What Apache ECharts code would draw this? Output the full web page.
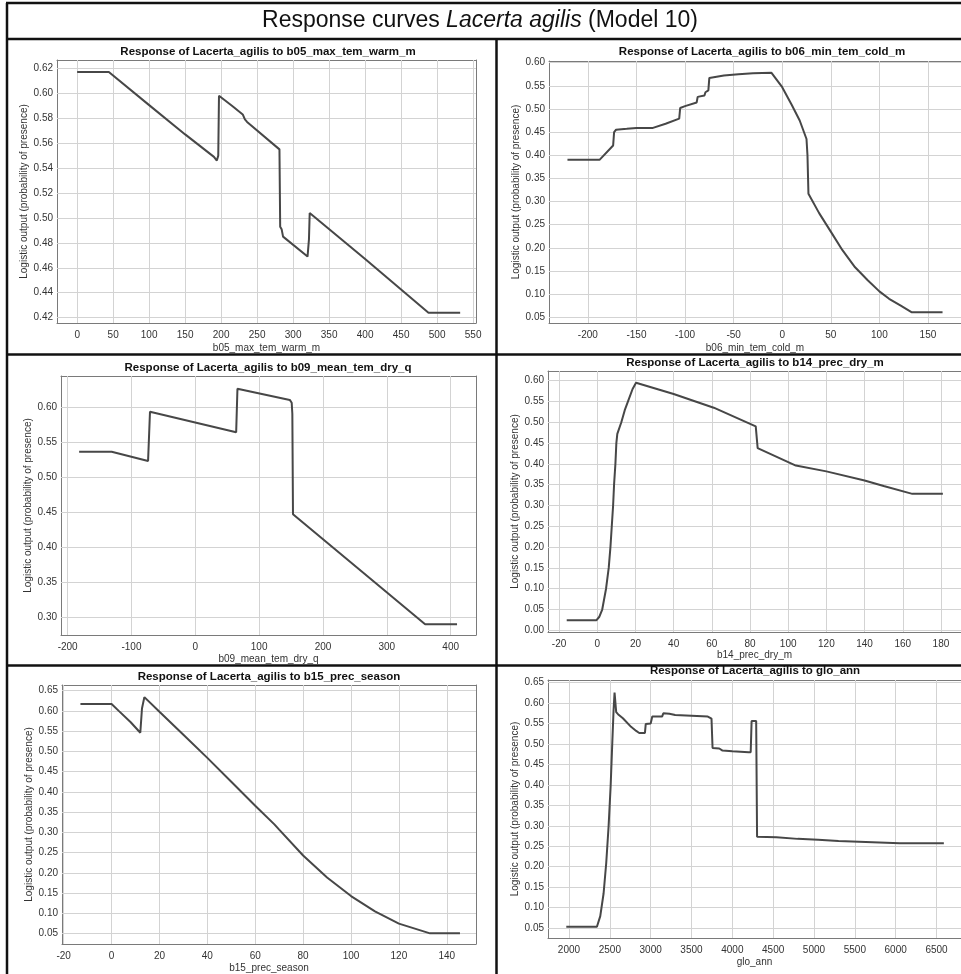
<!DOCTYPE html>
<html lang="en">
<head>
<meta charset="UTF-8">
<title>Response curves Lacerta agilis (Model 10)</title>
<script src="https://cdn.jsdelivr.net/npm/echarts@6/dist/echarts.min.js"></script>
<style>
  html,body{margin:0;padding:0;width:100%;height:100%;background:#fff;overflow:hidden;}
  #chart{width:961px;height:974px;}
</style>
</head>
<body>
<div id="chart"></div>
<script>
// response curves: [variable value, logistic output]
var b05 = [[0,0.617],[44,0.617],[100,0.5905],[150,0.567],[190,0.549],[194,0.546],[196,0.550],[197,0.598],[215,0.590],[230,0.583],[233,0.579],[236,0.577],
  [281,0.555],[282,0.493],[284,0.491],[286,0.485],[320,0.469],[322,0.483],[323,0.504],[400,0.467],[488,0.424],[532,0.424]];
var b06 = [[-221,0.390],[-188,0.390],[-174,0.421],[-173,0.450],[-171,0.455],[-160,0.457],[-150,0.459],[-133,0.459],[-120,0.468],[-106,0.479],[-105,0.502],
  [-100,0.506],[-88,0.514],[-87,0.526],[-80,0.529],[-79,0.536],[-76,0.540],[-75,0.567],[-60,0.572],[-45,0.575],[-30,0.577],[-11,0.578],[0,0.547],[10,0.508],
  [18,0.475],[25,0.435],[26,0.400],[27,0.317],[38,0.275],[50,0.235],[62,0.195],[75,0.158],[88,0.130],[100,0.106],[110,0.090],[122,0.075],[133,0.061],[165,0.061]];
var b09 = [[-182,0.536],[-131,0.536],[-74,0.523],[-71,0.593],[64,0.564],[66,0.626],[148,0.610],[151,0.606],[152,0.590],[153,0.447],[360,0.290],[410,0.290]];
var b14 = [[-16,0.024],[-0.5,0.024],[1,0.032],[2.6,0.05],[4.6,0.10],[6.0,0.15],[6.9,0.20],[7.6,0.25],[8.3,0.30],[8.8,0.35],[9.5,0.40],[10.0,0.45],[10.5,0.472],
  [12.6,0.50],[14.4,0.529],[16.1,0.55],[18.5,0.58],[20.3,0.595],[40,0.568],[61,0.535],[83,0.490],[84,0.438],[104,0.396],[120,0.382],[140,0.360],[150,0.347],
  [165,0.328],[181,0.328]];
var b15 = [[-13,0.617],[0,0.617],[3,0.600],[8,0.572],[12,0.546],[12.4,0.580],[12.7,0.606],[13.3,0.607],[13.7,0.634],[20,0.598],[30,0.541],[40,0.484],
  [50,0.425],[60,0.366],[68,0.320],[70,0.307],[80,0.243],[90,0.189],[100,0.143],[110,0.105],[120,0.075],[133,0.051],[145.5,0.051]];
var glo = [[1967,0.053],[2342,0.053],[2383,0.079],[2424,0.135],[2456,0.209],[2485,0.299],[2510,0.397],[2530,0.502],[2546,0.583],[2558,0.626],[2568,0.624],
  [2578,0.578],[2600,0.573],[2660,0.563],[2760,0.542],[2823,0.532],[2860,0.527],[2930,0.527],[2940,0.549],[3000,0.550],[3020,0.567],[3140,0.567],[3155,0.575],
  [3230,0.574],[3300,0.571],[3500,0.569],[3700,0.567],[3745,0.562],[3758,0.490],[3840,0.489],[3880,0.484],[4000,0.482],[4200,0.480],[4225,0.480],[4236,0.556],
  [4292,0.556],[4303,0.273],[4540,0.272],[4800,0.268],[5050,0.266],[5300,0.263],[5550,0.261],[5800,0.259],[6050,0.257],[6590,0.257]];

// tick labels
var b05Ticks = [0,50,100,150,200,250,300,350,400,450,500,550];
var b06Ticks = [-200,-150,-100,-50,0,50,100,150];
var b09Ticks = [-200,-100,0,100,200,300,400];
var b14Ticks = [-20,0,20,40,60,80,100,120,140,160,180];
var b15Ticks = [-20,0,20,40,60,80,100,120,140];
var gloTicks = [2000,2500,3000,3500,4000,4500,5000,5500,6000,6500];
var yTicks42 = [0.42,0.44,0.46,0.48,0.50,0.52,0.54,0.56,0.58,0.60,0.62];
var yTicks05 = [0.05,0.10,0.15,0.20,0.25,0.30,0.35,0.40,0.45,0.50,0.55,0.60];
var yTicks30 = [0.30,0.35,0.40,0.45,0.50,0.55,0.60];
var yTicks00 = [0.00,0.05,0.10,0.15,0.20,0.25,0.30,0.35,0.40,0.45,0.50,0.55,0.60];
var yTicks65 = [0.05,0.10,0.15,0.20,0.25,0.30,0.35,0.40,0.45,0.50,0.55,0.60,0.65];

var panels = [
  {v:'b05_max_tem_warm_m', data:b05, xt:b05Ticks, yt:yTicks42, left:57, top:60, width:419, height:263, xMin:-28, xMax:554, yMin:0.4157, yMax:0.6267, tx:268, ty:52, gap:20},
  {v:'b06_min_tem_cold_m', data:b06, xt:b06Ticks, yt:yTicks05, left:549, top:61, width:426, height:262, xMin:-240, xMax:184, yMin:0.0377, yMax:0.6035, tx:762, ty:52, gap:20},
  {v:'b09_mean_tem_dry_q', data:b09, xt:b09Ticks, yt:yTicks30, left:61, top:376, width:415, height:259, xMin:-210.4, xMax:439.7, yMin:0.2748, yMax:0.6441, tx:268, ty:368, gap:19},
  {v:'b14_prec_dry_m', data:b14, xt:b14Ticks, yt:yTicks00, left:548, top:371, width:414, height:261, xMin:-25.8, xMax:190.5, yMin:-0.004, yMax:0.6232, tx:755, ty:363, gap:18},
  {v:'b15_prec_season', data:b15, xt:b15Ticks, yt:yTicks65, left:62, top:685, width:414, height:261, xMin:-20.7, xMax:152.2, yMin:0.0247, yMax:0.6639, tx:269, ty:677, gap:19},
  {v:'glo_ann', data:glo, xt:gloTicks, yt:yTicks65, left:548, top:680, width:414, height:258, xMin:1743, xMax:6800, yMin:0.0256, yMax:0.6565, tx:755, ty:671, gap:19}
];

var FONT = '"Liberation Sans", Arial, sans-serif';
var boxLine = {show: true, onZero: false, lineStyle: {color: '#7a7a7a', width: 1}};
var tickLine = {color: '#555', width: 1};
var lbl = {color: '#333', fontSize: 10, fontFamily: FONT};

var grids = [], xAxes = [], yAxes = [], series = [], graphics = [];

panels.forEach(function (p, i) {
  grids.push({left: p.left, top: p.top, width: p.width, height: p.height});
  xAxes.push({
    type: 'value', gridIndex: i, min: p.xMin, max: p.xMax, position: 'bottom',
    name: p.v, nameLocation: 'middle', nameGap: p.gap, nameTextStyle: lbl,
    axisLine: boxLine,
    axisTick: {inside: true, length: 4, customValues: p.xt, lineStyle: tickLine},
    axisLabel: Object.assign({customValues: p.xt, margin: 7, formatter: function (v) { return String(v); }}, lbl),
    splitLine: {show: false}
  });
  xAxes.push({
    type: 'value', gridIndex: i, min: p.xMin, max: p.xMax, position: 'top',
    axisLine: boxLine,
    axisTick: {inside: true, length: 4, customValues: p.xt, lineStyle: tickLine},
    axisLabel: {show: false}, splitLine: {show: false}
  });
  yAxes.push({
    type: 'value', gridIndex: i, min: p.yMin, max: p.yMax, position: 'left',
    name: 'Logistic output (probability of presence)', nameLocation: 'middle', nameGap: 25, nameTextStyle: lbl,
    axisLine: boxLine,
    axisTick: {inside: true, length: 4, customValues: p.yt, lineStyle: tickLine},
    axisLabel: Object.assign({customValues: p.yt, margin: 4, formatter: function (v) { return v.toFixed(2); }}, lbl),
    splitLine: {show: false}
  });
  yAxes.push({
    type: 'value', gridIndex: i, min: p.yMin, max: p.yMax, position: 'right',
    axisLine: boxLine,
    axisTick: {inside: true, length: 4, customValues: p.yt, lineStyle: tickLine},
    axisLabel: {show: false}, splitLine: {show: false}
  });
  // grid lines at the labelled values, under the curve
  var gridMarks = p.xt.map(function (v) { return {xAxis: v}; })
    .concat(p.yt.map(function (v) { return {yAxis: v}; }));
  series.push({
    type: 'line', xAxisIndex: 2 * i, yAxisIndex: 2 * i, data: p.data,
    showSymbol: false, symbol: 'none', lineStyle: {color: '#474747', width: 2}, z: 3,
    markLine: {
      silent: true, z: 1, symbol: 'none', animation: false,
      label: {show: false}, emphasis: {disabled: true},
      lineStyle: {color: '#d3d3d3', width: 1, type: 'solid'},
      data: gridMarks
    }
  });
  graphics.push({
    type: 'text', x: p.tx, y: p.ty, z: 50,
    style: {text: 'Response of Lacerta_agilis to ' + p.v, fontFamily: FONT, fontSize: 11.5, fontWeight: 'bold',
      fill: '#111', align: 'center', verticalAlign: 'middle'}
  });
});

// frame lines of the figure
function hline(y, x1, x2) {
  return {type: 'line', z: 100, shape: {x1: x1, y1: y, x2: x2, y2: y}, style: {stroke: '#111', lineWidth: 2.5}};
}
function vline(x, y1, y2) {
  return {type: 'line', z: 100, shape: {x1: x, y1: y1, x2: x, y2: y2}, style: {stroke: '#111', lineWidth: 2.5}};
}
graphics.push(hline(3, 6, 961), hline(39, 6, 961), hline(354.5, 6, 961), hline(665.5, 6, 961));
graphics.push(vline(7, 3, 974), vline(496.5, 39, 974));
graphics.push({
  type: 'text', x: 480, y: 21, z: 100,
  style: {text: 'Response curves {i|Lacerta agilis} (Model 10)', fontFamily: FONT, fontSize: 23, fill: '#111',
    align: 'center', verticalAlign: 'middle',
    rich: {i: {fontFamily: FONT, fontSize: 23, fontStyle: 'italic', fill: '#111'}}}
});

var myChart = echarts.init(document.getElementById('chart'));
myChart.setOption({
  animation: false,
  backgroundColor: '#fff',
  grid: grids,
  xAxis: xAxes,
  yAxis: yAxes,
  series: series,
  graphic: graphics
});
</script>
</body>
</html>
